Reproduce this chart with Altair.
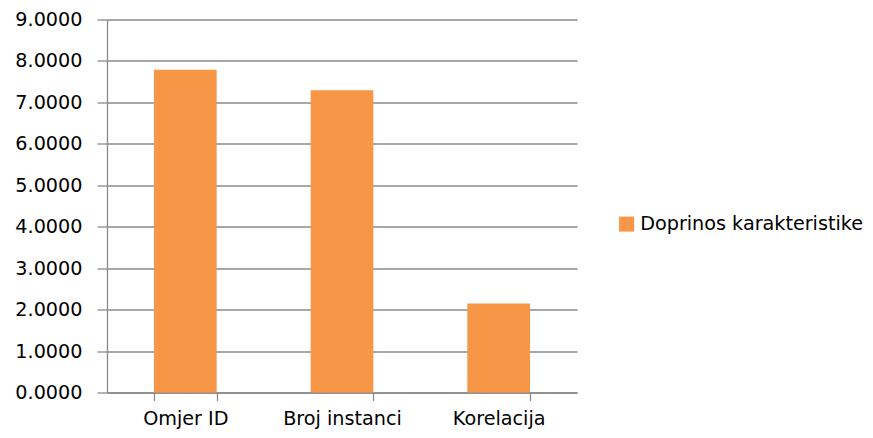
import altair as alt
import pandas as pd

categories = ["Omjer ID", "Broj instanci", "Korelacija"]
values = [7.79, 7.29, 2.15]
series_name = "Doprinos karakteristike"
y_ticks = [0, 1, 2, 3, 4, 5, 6, 7, 8, 9]

df = pd.DataFrame({
    "cat": categories,
    "val": values,
    "series": [series_name] * len(categories),
})

GRAY = "#8a8a8a"
FONT = "DejaVu Sans"
FS = 19.2

chart = alt.Chart(df).mark_bar(color="#F79646").encode(
    x=alt.X(
        "cat:N",
        sort=categories,
        scale=alt.Scale(paddingInner=0.6, paddingOuter=0.3),
        axis=alt.Axis(
            title=None, labelAngle=0, tickBand="extent", tickSize=8,
            tickColor=GRAY, domainColor=GRAY, tickWidth=1.3, domainWidth=1.3,
            labelPadding=24, labelBaseline="alphabetic",
            labelFont=FONT, labelFontSize=FS, labelColor="#000000",
        ),
    ),
    y=alt.Y(
        "val:Q",
        scale=alt.Scale(domain=[0, 9], nice=False),
        axis=alt.Axis(
            title=None, values=y_ticks, format=".4f", tickSize=10, grid=True,
            gridColor=GRAY, gridWidth=1.3, tickColor=GRAY, tickWidth=1.3,
            domainColor=GRAY, domainWidth=1.3, labelPadding=15,
            labelFont=FONT, labelFontSize=FS, labelColor="#000000",
        ),
    ),
    fill=alt.Fill(
        "series:N",
        scale=alt.Scale(range=["#F79646"]),
        legend=alt.Legend(
            title=None, orient="none", legendX=510, legendY=195,
            symbolType="square", symbolSize=225, symbolStrokeWidth=0,
            labelFont=FONT, labelFontSize=FS, labelColor="#000000",
            labelOffset=4, labelLimit=400,
        ),
    ),
).properties(
    width=470,
    height=373,
    autosize=alt.AutoSizeParams(type="none"),
    padding={"left": 99, "top": 11.5, "right": 288, "bottom": 37},
).configure(background="white").configure_view(stroke=None)

chart.save("out.html", embed_options={"renderer": "svg", "actions": False})
